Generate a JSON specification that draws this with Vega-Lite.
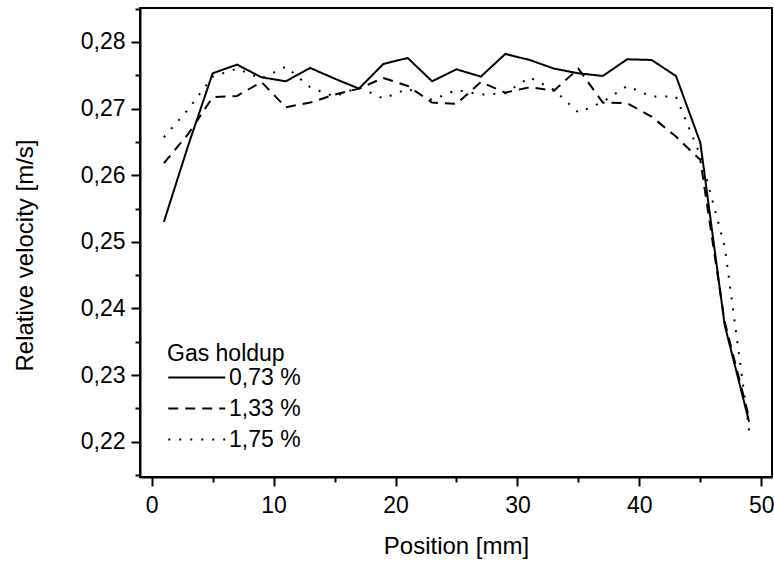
{
  "$schema": "https://vega.github.io/schema/vega-lite/v6.json",
  "autosize": {"type": "none"},
  "width": 632,
  "height": 469,
  "padding": {"left": 140, "top": 8, "right": 2, "bottom": 84},
  "config": {
    "font": "Liberation Sans",
    "view": {"stroke": "#000", "strokeWidth": 2},
    "axis": {"grid": false, "domainColor": "#000", "domainWidth": 2, "tickColor": "#000", "tickWidth": 2, "labelColor": "#000", "titleColor": "#000", "labelFontSize": 23, "titleFontSize": 24, "titleFontWeight": "normal", "labelFont": "Liberation Sans", "titleFont": "Liberation Sans"}
  },
  "data": {
    "values": [
      {"pos": 1, "v": 0.2530, "g": "0,73 %"}, {"pos": 3, "v": 0.2645, "g": "0,73 %"}, {"pos": 5, "v": 0.2753, "g": "0,73 %"}, {"pos": 7, "v": 0.2766, "g": "0,73 %"}, {"pos": 9, "v": 0.2747, "g": "0,73 %"}, {"pos": 11, "v": 0.2741, "g": "0,73 %"}, {"pos": 13, "v": 0.2761, "g": "0,73 %"}, {"pos": 15, "v": 0.2745, "g": "0,73 %"}, {"pos": 17, "v": 0.2730, "g": "0,73 %"}, {"pos": 19, "v": 0.2767, "g": "0,73 %"}, {"pos": 21, "v": 0.2776, "g": "0,73 %"}, {"pos": 23, "v": 0.2741, "g": "0,73 %"}, {"pos": 25, "v": 0.2759, "g": "0,73 %"}, {"pos": 27, "v": 0.2748, "g": "0,73 %"}, {"pos": 29, "v": 0.2782, "g": "0,73 %"}, {"pos": 31, "v": 0.2773, "g": "0,73 %"}, {"pos": 33, "v": 0.2760, "g": "0,73 %"}, {"pos": 35, "v": 0.2753, "g": "0,73 %"}, {"pos": 37, "v": 0.2749, "g": "0,73 %"}, {"pos": 39, "v": 0.2774, "g": "0,73 %"}, {"pos": 41, "v": 0.2773, "g": "0,73 %"}, {"pos": 43, "v": 0.2749, "g": "0,73 %"}, {"pos": 45, "v": 0.2649, "g": "0,73 %"}, {"pos": 47, "v": 0.2375, "g": "0,73 %"}, {"pos": 49, "v": 0.2230, "g": "0,73 %"},
      {"pos": 1, "v": 0.2618, "g": "1,33 %"}, {"pos": 3, "v": 0.2662, "g": "1,33 %"}, {"pos": 5, "v": 0.2717, "g": "1,33 %"}, {"pos": 7, "v": 0.2719, "g": "1,33 %"}, {"pos": 9, "v": 0.2740, "g": "1,33 %"}, {"pos": 11, "v": 0.2702, "g": "1,33 %"}, {"pos": 13, "v": 0.2709, "g": "1,33 %"}, {"pos": 15, "v": 0.2721, "g": "1,33 %"}, {"pos": 17, "v": 0.2730, "g": "1,33 %"}, {"pos": 19, "v": 0.2746, "g": "1,33 %"}, {"pos": 21, "v": 0.2734, "g": "1,33 %"}, {"pos": 23, "v": 0.2709, "g": "1,33 %"}, {"pos": 25, "v": 0.2707, "g": "1,33 %"}, {"pos": 27, "v": 0.2740, "g": "1,33 %"}, {"pos": 29, "v": 0.2724, "g": "1,33 %"}, {"pos": 31, "v": 0.2732, "g": "1,33 %"}, {"pos": 33, "v": 0.2727, "g": "1,33 %"}, {"pos": 35, "v": 0.2760, "g": "1,33 %"}, {"pos": 37, "v": 0.2709, "g": "1,33 %"}, {"pos": 39, "v": 0.2708, "g": "1,33 %"}, {"pos": 41, "v": 0.2688, "g": "1,33 %"}, {"pos": 43, "v": 0.2658, "g": "1,33 %"}, {"pos": 45, "v": 0.2623, "g": "1,33 %"}, {"pos": 47, "v": 0.2380, "g": "1,33 %"}, {"pos": 49, "v": 0.2236, "g": "1,33 %"},
      {"pos": 1, "v": 0.2657, "g": "1,75 %"}, {"pos": 3, "v": 0.2699, "g": "1,75 %"}, {"pos": 5, "v": 0.2748, "g": "1,75 %"}, {"pos": 7, "v": 0.2760, "g": "1,75 %"}, {"pos": 9, "v": 0.2745, "g": "1,75 %"}, {"pos": 11, "v": 0.2763, "g": "1,75 %"}, {"pos": 13, "v": 0.2732, "g": "1,75 %"}, {"pos": 15, "v": 0.2718, "g": "1,75 %"}, {"pos": 17, "v": 0.2732, "g": "1,75 %"}, {"pos": 19, "v": 0.2715, "g": "1,75 %"}, {"pos": 21, "v": 0.2730, "g": "1,75 %"}, {"pos": 23, "v": 0.2713, "g": "1,75 %"}, {"pos": 25, "v": 0.2728, "g": "1,75 %"}, {"pos": 27, "v": 0.2721, "g": "1,75 %"}, {"pos": 29, "v": 0.2723, "g": "1,75 %"}, {"pos": 31, "v": 0.2747, "g": "1,75 %"}, {"pos": 33, "v": 0.2728, "g": "1,75 %"}, {"pos": 35, "v": 0.2694, "g": "1,75 %"}, {"pos": 37, "v": 0.2710, "g": "1,75 %"}, {"pos": 39, "v": 0.2734, "g": "1,75 %"}, {"pos": 41, "v": 0.2718, "g": "1,75 %"}, {"pos": 43, "v": 0.2718, "g": "1,75 %"}, {"pos": 45, "v": 0.2630, "g": "1,75 %"}, {"pos": 47, "v": 0.2493, "g": "1,75 %"}, {"pos": 49, "v": 0.2217, "g": "1,75 %"}
    ]
  },
  "mark": {"type": "line", "strokeWidth": 2, "color": "#000", "clip": true},
  "encoding": {
    "x": {
      "field": "pos", "type": "quantitative",
      "scale": {"domain": [-0.96, 50.88], "nice": false, "zero": false},
      "axis": {
        "title": "Position [mm]",
        "values": [0, 5, 10, 15, 20, 25, 30, 35, 40, 45, 50],
        "labelExpr": "datum.value % 10 === 0 ? datum.label : ''",
        "tickSize": {"condition": {"test": "datum.value % 10 === 0", "value": 9}, "value": 5},
        "labelBaseline": "alphabetic",
        "labelPadding": 26,
        "labelFlush": false,
        "titleBaseline": "alphabetic",
        "titleY": 76
      }
    },
    "y": {
      "field": "v", "type": "quantitative",
      "scale": {"domain": [0.2147, 0.2851], "nice": false, "zero": false},
      "axis": {
        "title": "Relative velocity [m/s]",
        "values": [0.215, 0.22, 0.225, 0.23, 0.235, 0.24, 0.245, 0.25, 0.255, 0.26, 0.265, 0.27, 0.275, 0.28, 0.285],
        "labelExpr": "round(datum.value * 1000) % 10 === 0 ? replace(format(datum.value, '.2f'), '.', ',') : ''",
        "tickSize": {"condition": {"test": "round(datum.value * 1000) % 10 === 0", "value": 9}, "value": 5},
        "labelPadding": 6,
        "labelFlush": false,
        "titleBaseline": "alphabetic",
        "titleX": -108,
        "titleY": 247,
        "titleAlign": "center",
        "titleAngle": -90
      }
    },
    "strokeDash": {
      "field": "g", "type": "nominal",
      "scale": {"domain": ["0,73 %", "1,33 %", "1,75 %"], "range": [[1, 0], [10, 7], [2, 9]]},
      "legend": {
        "title": "Gas holdup",
        "orient": "none",
        "legendX": 27,
        "legendY": 335,
        "titleFontSize": 23,
        "titleFontWeight": "normal",
        "titleColor": "#000",
        "titleFont": "Liberation Sans",
        "labelFontSize": 23,
        "labelColor": "#000",
        "labelFont": "Liberation Sans",
        "symbolType": "M-1,0H3",
        "symbolSize": 812,
        "symbolStrokeWidth": 2,
        "symbolStrokeColor": "#000",
        "symbolFillColor": "transparent",
        "labelOffset": 31,
        "rowPadding": 3,
        "titlePadding": -4
      }
    }
  }
}
